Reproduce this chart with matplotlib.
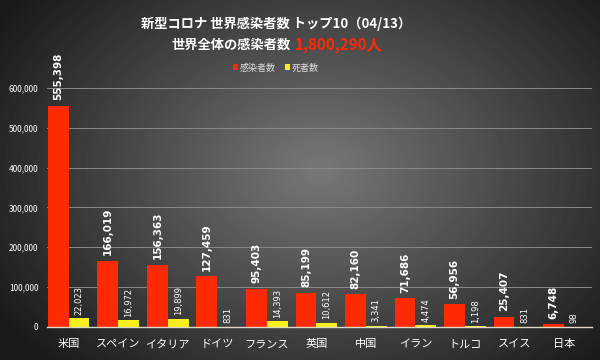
import numpy as np
import matplotlib
matplotlib.use('Agg')
import matplotlib.pyplot as plt
from matplotlib.ticker import FuncFormatter

plt.rcParams['font.family'] = ['Noto Sans CJK JP', 'DejaVu Sans']

countries = ['米国', 'スペイン', 'イタリア', 'ドイツ', 'フランス', '英国', '中国', 'イラン', 'トルコ', 'スイス', '日本']
cases = [555398, 166019, 156363, 127459, 95403, 85199, 82160, 71686, 56956, 25407, 6748]
deaths = [22023, 16972, 19899, 831, 14393, 10612, 3341, 4474, 1198, 831, 98]
world_total = '1,800,290人'

RED = '#ff2a00'
YELLOW = '#f7f01c'

fig = plt.figure(figsize=(6, 3.6), dpi=100)

# radial grey background
bg = fig.add_axes([0, 0, 1, 1], zorder=-1)
yy, xx = np.mgrid[0:360, 0:600]
r = np.sqrt(((xx - 320) / 330.0) ** 2 + ((yy - 170) / 240.0) ** 2)
shade = np.clip(0.47 - 0.32 * r, 0.1, 0.48)
bg.imshow(shade, cmap='gray', vmin=0, vmax=1, aspect='auto')
bg.axis('off')

ax = fig.add_axes([0.078, 0.092, 0.909, 0.664])
ax.set_facecolor('none')

x = np.arange(len(countries))
w = 0.42
b1 = ax.bar(x - w / 2, cases, w, color=RED, label='感染者数', zorder=2)
b2 = ax.bar(x + w / 2, deaths, w, color=YELLOW, label='死者数', zorder=2)

for rect, v in zip(b1, cases):
    ax.annotate(f'{v:,}', (rect.get_x() + rect.get_width() / 2, v), xytext=(0, 4),
                textcoords='offset points', rotation=90, ha='center', va='bottom',
                color='white', fontsize=7.5, fontweight='bold', family='DejaVu Sans',
                annotation_clip=False)
for rect, v in zip(b2, deaths):
    ax.annotate(f'{v:,}', (rect.get_x() + rect.get_width() / 2, v), xytext=(0, 2.5),
                textcoords='offset points', rotation=90, ha='center', va='bottom',
                color='white', fontsize=6, family='DejaVu Sans', annotation_clip=False)

ax.set_ylim(0, 600000)
ax.set_xlim(-0.442, 10.57)
ax.set_yticks(np.arange(0, 600001, 100000))
ax.yaxis.set_major_formatter(FuncFormatter(lambda v, p: f'{int(v):,}'))
ax.set_xticks(x)
ax.set_xticklabels(countries)
ax.tick_params(axis='y', colors='white', labelsize=6, length=0, pad=6)
ax.tick_params(axis='x', colors='white', labelsize=8, length=0, pad=9)
ax.grid(axis='y', color='#8a8a8a', linewidth=0.7, zorder=0)
for s in ['top', 'right', 'left']:
    ax.spines[s].set_visible(False)
ax.spines['bottom'].set_color('#e0d8c0')
ax.spines['bottom'].set_linewidth(1.0)

leg = ax.legend(loc='lower center', bbox_to_anchor=(0.42, 1.03), ncol=2, frameon=False,
                fontsize=6.5, handlelength=0.6, handleheight=0.6, handletextpad=0.2,
                columnspacing=1.0, labelcolor='#dddddd')

fig.text(0.46, 0.935, '新型コロナ 世界感染者数 トップ10（04/13）', ha='center', va='center',
         color='white', fontsize=9.5, fontweight='bold')
fig.text(0.485, 0.875, '世界全体の感染者数', ha='right', va='center',
         color='white', fontsize=9.5, fontweight='bold')
fig.text(0.492, 0.875, world_total, ha='left', va='center',
         color=RED, fontsize=11, fontweight='bold')

fig.savefig('out.png', dpi=100)
